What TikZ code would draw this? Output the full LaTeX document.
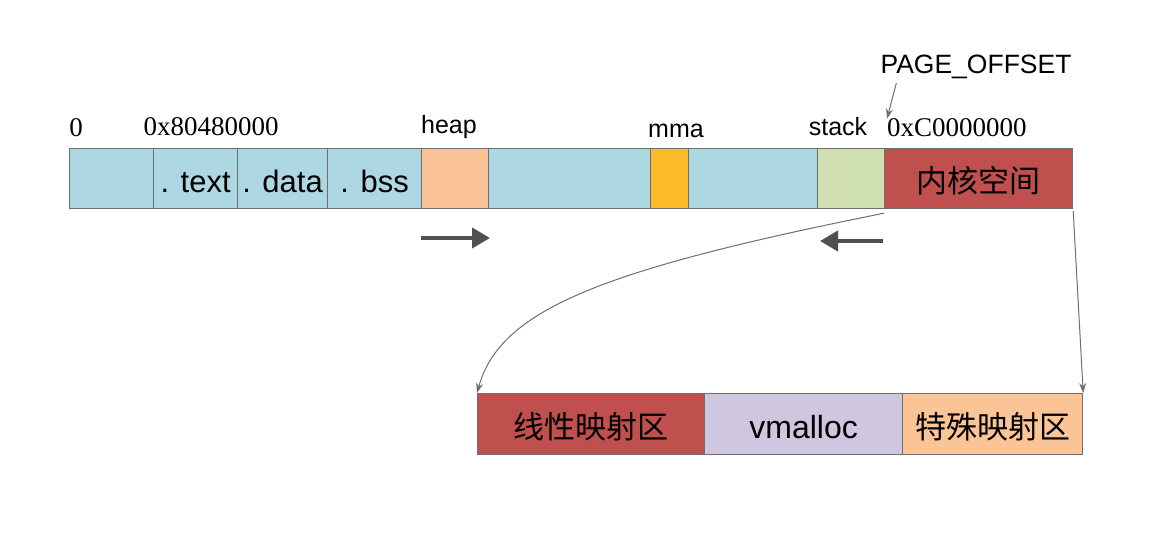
\documentclass[tikz,border=0pt]{standalone}
\usepackage{fontspec}
\setmainfont{Liberation Sans}
\newfontfamily\numfont{Liberation Serif}
\newfontfamily\cnfont{Noto Sans CJK SC}
\usetikzlibrary{arrows.meta}
\definecolor{cellblue}{RGB}{173,216,227}
\definecolor{heapcol}{RGB}{250,196,151}
\definecolor{mmacol}{RGB}{251,187,42}
\definecolor{stackcol}{RGB}{209,224,176}
\definecolor{kernelcol}{RGB}{192,80,77}
\definecolor{vmcol}{RGB}{207,198,223}
\definecolor{edgecol}{RGB}{110,110,110}
\definecolor{arrowcol}{RGB}{80,80,80}

\begin{document}
\begin{tikzpicture}[x=1pt, y=-1pt,
  cell/.style={draw=edgecol, line width=1.2pt, inner sep=0pt, anchor=north west,
    minimum height=60pt, text height=28pt, text depth=0pt, font=\fontsize{31}{33}\selectfont},
  cncell/.style={cell, font=\fontsize{31}{33}\selectfont\cnfont},
  tag/.style={inner sep=0pt, font=\fontsize{25}{27}\selectfont},
  numtag/.style={inner sep=0pt, font=\fontsize{27}{29}\selectfont\numfont},
  growth/.style={draw=arrowcol, line width=4pt, -{Triangle[length=18pt, width=20pt]}},
  link/.style={draw=edgecol, line width=1pt, -{Stealth[length=10pt, width=7pt]}}]
  \useasboundingbox (0,0) rectangle (1172,555);
  \node[cell, fill=cellblue, minimum width=84pt] (low) at (69,148) {};
  \node[cell, fill=cellblue, minimum width=84pt] (text) at (153,148) {. text};
  \node[cell, fill=cellblue, minimum width=90pt] (data) at (237,148) {. data};
  \node[cell, fill=cellblue, minimum width=94pt] (bss) at (327,148) {. bss};
  \node[cell, fill=heapcol, minimum width=67pt] (heap) at (421,148) {};
  \node[cell, fill=cellblue, minimum width=162pt] (free1) at (488,148) {};
  \node[cell, fill=mmacol, minimum width=38pt] (mma) at (650,148) {};
  \node[cell, fill=cellblue, minimum width=129pt] (free2) at (688,148) {};
  \node[cell, fill=stackcol, minimum width=67pt] (stack) at (817,148) {};
  \node[cncell, fill=kernelcol, minimum width=188pt] (kernel) at (884,148) {内核空间};

  \node[cncell, fill=kernelcol, minimum width=227pt, minimum height=61pt] (linear) at (477,393) {线性映射区};
  \node[cell, fill=vmcol, minimum width=198pt, minimum height=61pt, font=\fontsize{32}{34}\selectfont] (vmalloc) at (704,393) {vmalloc};
  \node[cncell, fill=heapcol, minimum width=180pt, minimum height=61pt] (special) at (902,393) {特殊映射区};

  \node[numtag] (zero) at (76,128) {0};
  \node[numtag] (textaddr) at (211,127) {0x80480000};
  \node[tag] (heaplbl) at (449,127) {heap};
  \node[tag] (mmalbl) at (676,131) {mma};
  \node[tag] (stacklbl) at (838,127) {stack};
  \node[numtag, anchor=west] (kaddr) at (887,128) {0xC0000000};
  \node[tag, font=\fontsize{26.5}{28}\selectfont] (offset) at (976,67) {PAGE\_OFFSET};

  \coordinate (heapend) at (490,238);
  \coordinate (stackend) at (820,241);
  \draw[growth] (heap.south west |- heapend) -- (heapend);
  \draw[growth] (stack.south east |- stackend) ++(-2,0) -- (stackend);

  \draw[link] (offset.south west) ++(16,4) -- (kaddr.north west);
  \draw[link] (kernel.south west) ++(0,4) .. controls (600,270) and (500,310) .. (linear.north west);
  \draw[link] (kernel.south east) ++(0,2) -- (special.north east);
\end{tikzpicture}
\end{document}
